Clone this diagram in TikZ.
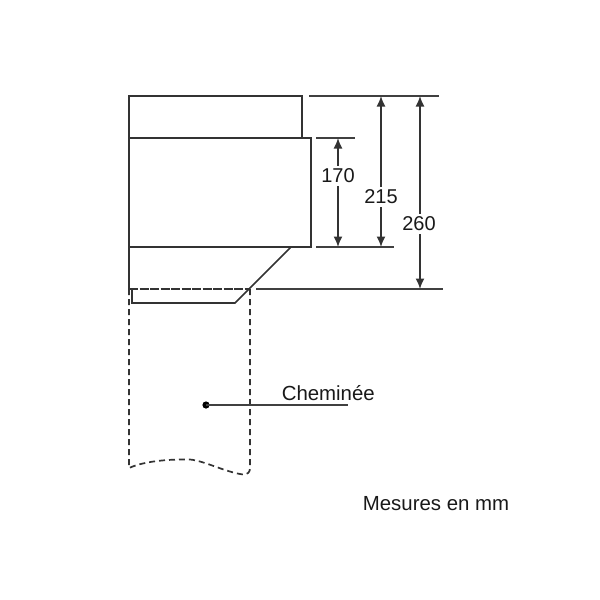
\documentclass[tikz,border=0pt]{standalone}
\usepackage{fontspec}
\setmainfont{Liberation Sans}
\usetikzlibrary{arrows.meta}
\tikzset{
  body/.style={draw=black!80,line width=1.7pt},
  thin line/.style={draw=black!75,line width=1.6pt},
  dash line/.style={draw=black!80,line width=1.7pt,dash pattern=on 6pt off 4pt},
  dim/.style={draw=black!80,line width=1.6pt,{Latex[length=10.5pt,width=9pt]}-{Latex[length=10.5pt,width=9pt]}},
  dimtext/.style={fill=white,inner xsep=1.5pt,inner ysep=3pt,font=\fontsize{20}{20}\selectfont,text=black!90},
  lab/.style={inner sep=0pt,font=\fontsize{20.4}{22}\selectfont,text=black!90}
}
\begin{document}
\begin{tikzpicture}[x=1pt,y=-1pt]
\useasboundingbox (0,0) rectangle (600,600);
% housing
\draw[body] (129,138) -- (129,96) -- (302,96) -- (302,138);
\draw[body] (129,138) rectangle (311,247);
\draw[body] (129,247) -- (129,289);
\draw[body] (291,247) -- (235,303) -- (132,303) -- (132,289);
\draw[dash line,dash pattern=on 9pt off 1.5pt] (129,289) -- (249,289);
% extension lines
\coordinate (t1) at (309,96);   \coordinate (t2) at (439,96);
\coordinate (m1) at (316,138);  \coordinate (m2) at (355,138);
\coordinate (b1) at (316,247);  \coordinate (b2) at (394,247);
\coordinate (g1) at (256,289);  \coordinate (g2) at (443,289);
\draw[thin line] (t1) -- (t2) (m1) -- (m2) (b1) -- (b2) (g1) -- (g2);
% dimensions
\coordinate (d1a) at (338,138); \coordinate (d1b) at (338,247);
\coordinate (d2a) at (381,96);  \coordinate (d2b) at (381,247);
\coordinate (d3a) at (420,96);  \coordinate (d3b) at (420,289);
\draw[dim] (d1a) -- (d1b);
\draw[dim] (d2a) -- (d2b);
\draw[dim] (d3a) -- (d3b);
\node[dimtext] (n170) at (338,176) {170};
\node[dimtext] (n215) at (381,197) {215};
\node[dimtext] (n260) at (419,224) {260};
% chimney
\draw[dash line] (129,289) -- (129,468)
  .. controls (140,463) and (160,459) .. (190,459.5)
  .. controls (205,461) and (225,472) .. (243,474.5)
  .. controls (248,474.5) and (250,472) .. (250,468) -- (250,289);
% leader
\coordinate (dot) at (206,405);
\coordinate (leadend) at (348,405);
\fill[black] (dot) circle (3.6pt);
\draw[thin line] (dot) -- (leadend);
\node[lab] (chem) at (328.3,393.5) {Cheminée};
\node[lab] (mes) at (436,503.5) {Mesures en mm};
\end{tikzpicture}
\end{document}
